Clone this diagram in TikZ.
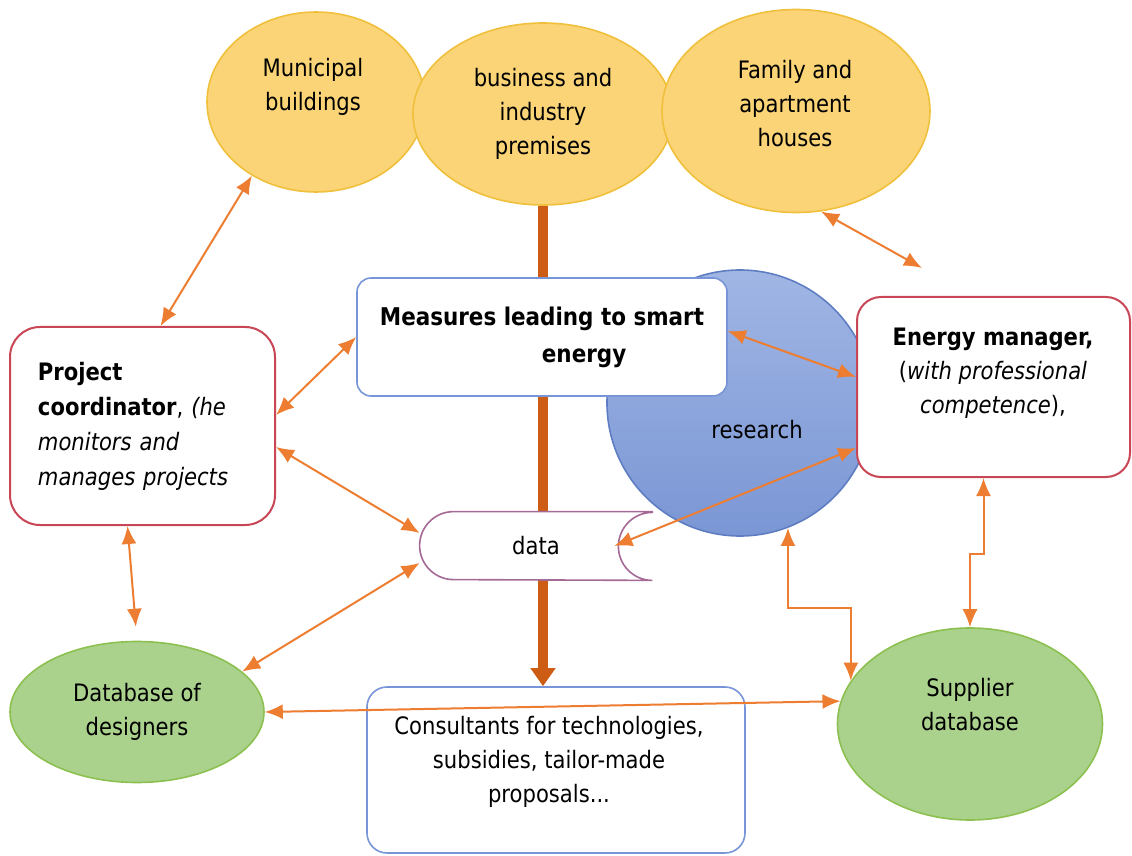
\documentclass[tikz,border=0pt]{standalone}
\usepackage{fontspec}
\setmainfont{DejaVu Sans}[FakeStretch=0.88]
\usepackage{tikz}
\usetikzlibrary{arrows.meta,shapes.geometric,backgrounds}

\definecolor{ellYellow}{RGB}{250,212,118}
\definecolor{ellYellowLine}{RGB}{240,192,60}
\definecolor{dbGreen}{RGB}{170,210,140}
\definecolor{dbGreenLine}{RGB}{140,192,80}
\definecolor{boxRed}{RGB}{200,70,85}
\definecolor{boxBlue}{RGB}{120,150,215}
\definecolor{dataLine}{RGB}{165,105,150}
\definecolor{resTop}{RGB}{160,182,228}
\definecolor{resBottom}{RGB}{122,150,212}
\definecolor{resLine}{RGB}{95,125,195}
\definecolor{linkOrange}{RGB}{237,125,49}
\definecolor{flowOrange}{RGB}{205,92,20}

\tikzset{
  sectorEll/.style={ellipse, draw=ellYellowLine, fill=ellYellow, line width=0.8pt, align=center},
  dbEll/.style={ellipse, draw=dbGreenLine, fill=dbGreen, line width=0.8pt, align=center},
  actorBox/.style={rectangle, draw=boxRed, fill=white, line width=1pt},
  infoBox/.style={rectangle, draw=boxBlue, fill=white, line width=0.8pt, align=center},
  link/.style={draw=linkOrange, line width=1pt, {Latex[length=9pt,width=7.5pt]}-{Latex[length=9pt,width=7.5pt]}},
  mainFlow/.style={draw=flowOrange, line width=5pt, -{Triangle[length=9pt,width=12pt]}},
  txt/.style={align=center, inner sep=0pt}
}

\begin{document}
\begin{tikzpicture}[x=0.5pt, y=-0.5pt, font=\fontsize{12}{17}\selectfont]
\useasboundingbox (0,0) rectangle (1132,856);

% Sectors on top
\node[sectorEll, minimum width=109pt, minimum height=90pt] (muni) at (316,102) {};
\node[txt] (muniText) at (313,87) {Municipal\\buildings};
\node[sectorEll, minimum width=130pt, minimum height=91pt] (biz) at (543,114) {business and\\industry\\premises};
\node[sectorEll, minimum width=134pt, minimum height=101.5pt] (fam) at (796,111) {};
\node[txt] (famText) at (795,104) {Family and\\apartment\\houses};

% Research circle
\node[circle, draw=resLine, top color=resTop, bottom color=resBottom, line width=0.8pt, minimum size=133pt] (research) at (740,403) {};
\node[txt] (researchText) at (757,430) {research};

% Boxes
\node[infoBox, rounded corners=7pt, minimum width=185pt, minimum height=59pt, align=left, font=\fontsize{12.2}{18.5}\selectfont\bfseries] (measures) at (542,337) {Measures leading to smart\\\hspace*{81pt}energy};
\node[actorBox, rounded corners=15pt, minimum width=132.5pt, minimum height=99pt, text width=104.5pt, align=left, font=\fontsize{12}{17.5}\selectfont] (coord) at (142.5,426) {\textbf{Project}\\\textbf{coordinator}, \textit{(he}\\\textit{monitors and}\\\textit{manages projects}};
\node[actorBox, rounded corners=12pt, minimum width=136.5pt, minimum height=90pt] (energy) at (993.5,387) {};
\node[txt] (energyText) at (993,373) {\textbf{Energy manager,}\\(\textit{with professional}\\\textit{competence}),};
\node[infoBox, rounded corners=10pt, minimum width=189pt, minimum height=83pt] (consult) at (556,770) {};
\node[txt] (consultText) at (549,762) {Consultants for technologies,\\subsidies, tailor-made\\proposals...};

% Stored data
\node[minimum width=116pt, minimum height=34pt, inner sep=0pt] (data) at (536,546) {};
\draw[draw=dataLine, fill=white, line width=0.8pt] (data.north east) -- ([xshift=17pt]data.north west)
  arc[start angle=90, end angle=270, radius=17pt] -- (data.south east)
  arc[start angle=270, end angle=90, radius=17pt] -- cycle;
\node[txt] (dataText) at (data.center) {data};

% Databases
\node[dbEll, minimum width=127pt, minimum height=70.5pt] (designers) at (137,712) {Database of\\designers};
\node[dbEll, minimum width=132.5pt, minimum height=96pt] (supplier) at (970,724) {};
\node[txt] (supplierText) at (970,705) {Supplier\\database};

% Main flow
\begin{scope}[on background layer]
\draw[mainFlow] (biz.south) -- (biz.south |- consult.north);
\end{scope}

% Links
\coordinate (famEnd) at (922,268);
\draw[link] (muni.-131) -- ([xshift=9pt]coord.north);
\draw[link] (fam.-76) -- (famEnd);
\draw[link] (measures.west) -- ([yshift=5.5pt]coord.east);
\draw[link] ([yshift=-10.5pt]coord.east) -- ([yshift=6.5pt]data.west);
\draw[link] ([yshift=-8.5pt]data.west) -- (designers.21);
\draw[link] ([yshift=3pt]measures.east) -- ([yshift=5pt]energy.west);
\draw[link] ([xshift=-19pt]data.east) -- ([yshift=-30.5pt]energy.west);
\draw[link] (designers.east) -- (supplier.170);
\draw[link, shorten <=7pt] (designers.north) -- ([xshift=-7.5pt]coord.south);
\draw[link] (research.-69) -- ++(0,80) -| (supplier.160);
\draw[link] ([xshift=-5pt]energy.south) -- ++(0,76) -| (supplier.north);
\end{tikzpicture}
\end{document}
